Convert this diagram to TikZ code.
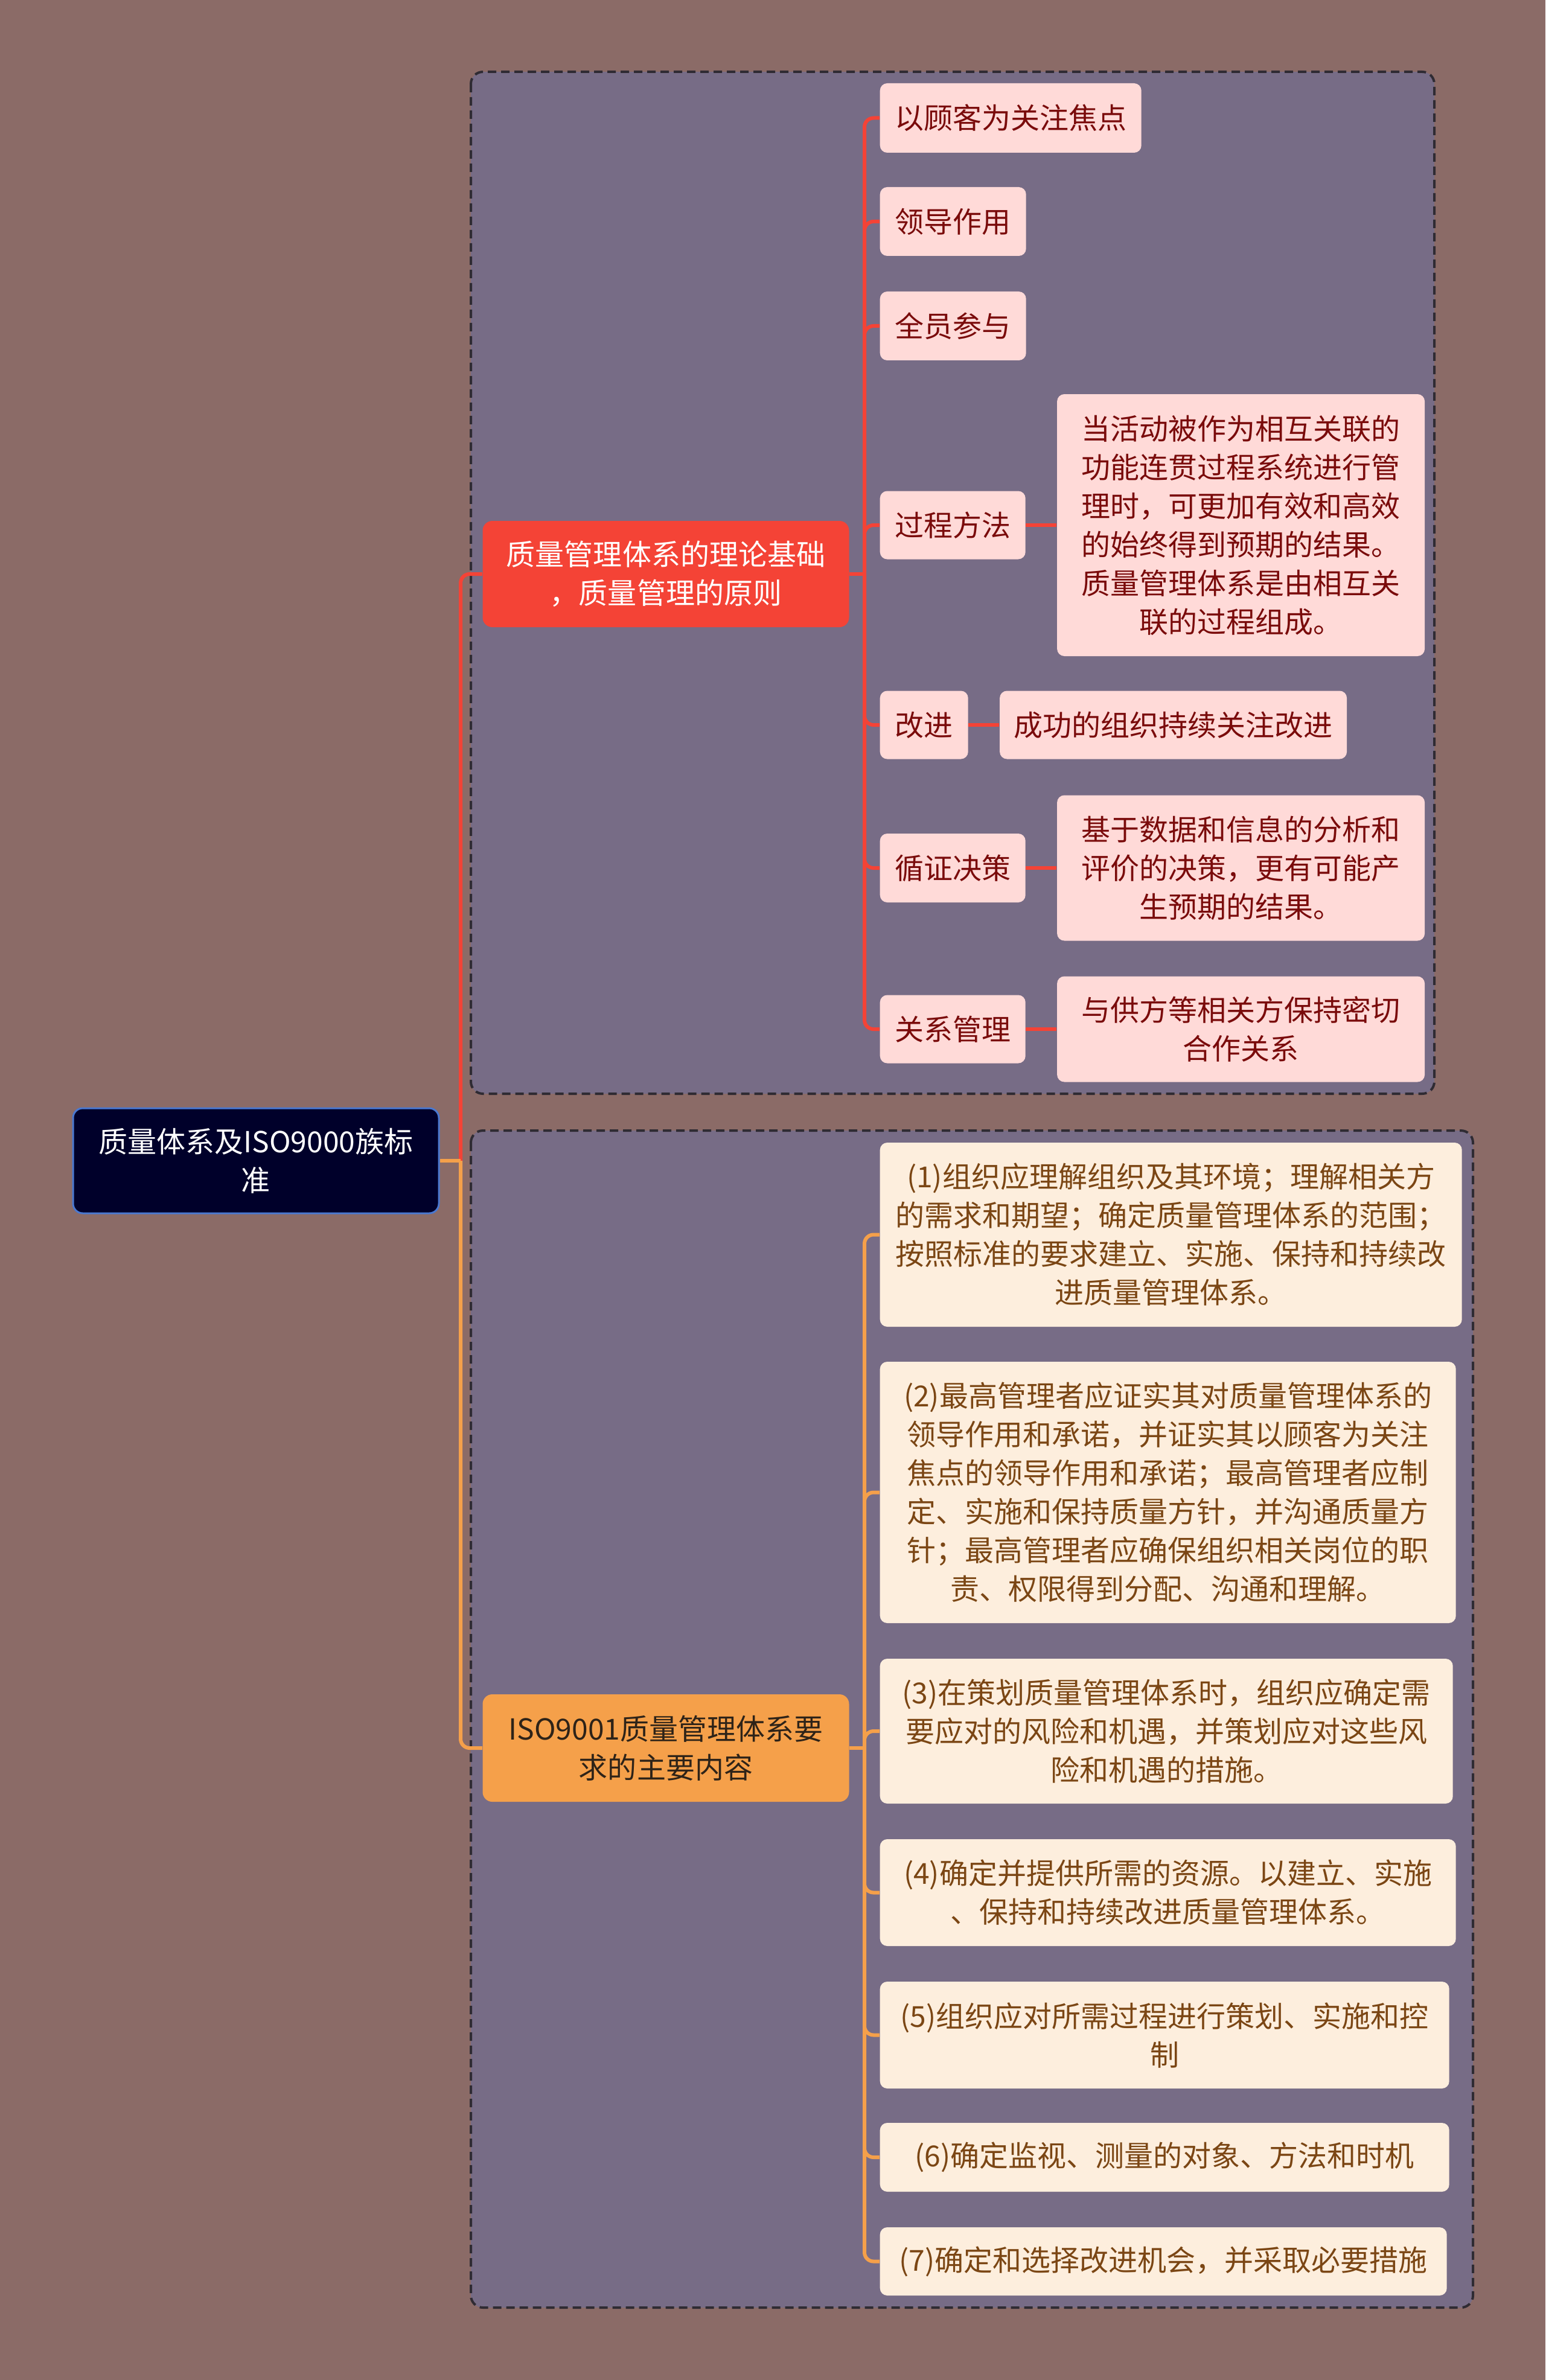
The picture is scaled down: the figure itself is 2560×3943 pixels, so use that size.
\documentclass[tikz,border=0pt]{standalone}
\usepackage{fontspec}
\setmainfont{Noto Sans CJK SC}
\usetikzlibrary{positioning}

\definecolor{bgbrown}{HTML}{8B6B67}
\definecolor{grpfill}{HTML}{776C86}
\definecolor{grpline}{HTML}{2F2B33}
\definecolor{rootfill}{HTML}{00002A}
\definecolor{rootline}{HTML}{4A78D0}
\definecolor{redmain}{HTML}{F44336}
\definecolor{kidred}{HTML}{FFDAD8}
\definecolor{txtred}{HTML}{7A0B0B}
\definecolor{orgmain}{HTML}{F5A04A}
\definecolor{kidorg}{HTML}{FDEEDD}
\definecolor{txtorg}{HTML}{7B4614}
\definecolor{orgdark}{HTML}{2E2318}

\tikzset{
  base/.style={rectangle, rounded corners=1.2mm, inner sep=0pt, align=center,
    font=\fontsize{13.66pt}{18.21pt}\selectfont},
  rootbox/.style={base, fill=rootfill, draw=rootline, line width=0.3mm, text=white, rounded corners=1.6mm},
  redhead/.style={base, fill=redmain, text=white, rounded corners=1.6mm},
  orghead/.style={base, fill=orgmain, text=orgdark, rounded corners=1.6mm},
  redkid/.style={base, fill=kidred, text=txtred},
  orgkid/.style={base, fill=kidorg, text=txtorg},
  group/.style={draw=grpline, fill=grpfill, line width=0.4mm, dash pattern=on 1.4mm off 0.8mm, rounded corners=2mm},
  redline/.style={draw=redmain, line width=0.6mm, rounded corners=1.5mm},
  orgline/.style={draw=orgmain, line width=0.6mm, rounded corners=1.5mm},
}

\begin{document}
\begin{tikzpicture}[x=0.1mm, y=-0.1mm]
    \useasboundingbox (0,0) rectangle (2560,3943);
    \fill[bgbrown] (0,0) rectangle (2560,3943);

    % dashed frames round the two branches
    \draw[group] (780,119) rectangle (2376,1812);
    \draw[group] (780,1873) rectangle (2440,3823);

    \node[rootbox, minimum width=60.6mm, minimum height=17.4mm] (root) at (424,1923) {质量体系及ISO9000族标\\准};

    \node[redhead, minimum width=60.7mm, minimum height=17.6mm] (b1) at (1103,951) {质量管理体系的理论基础\\，质量管理的原则};
    \node[orghead, minimum width=60.7mm, minimum height=17.8mm] (b2) at (1103,2896) {ISO9001质量管理体系要\\求的主要内容};

    % principles
    \node[redkid, minimum width=43.3mm, minimum height=11.5mm, anchor=west] (c1) at (1457,195.5) {以顾客为关注焦点};
    \node[redkid, minimum width=24.2mm, minimum height=11.4mm, anchor=west] (c2) at (1457,367) {领导作用};
    \node[redkid, minimum width=24.2mm, minimum height=11.4mm, anchor=west] (c3) at (1457,540) {全员参与};
    \node[redkid, minimum width=24.1mm, minimum height=11.3mm, anchor=west] (c4) at (1457,870) {过程方法};
    \node[redkid, minimum width=14.6mm, minimum height=11.3mm, anchor=west] (c5) at (1457,1201) {改进};
    \node[redkid, minimum width=24.1mm, minimum height=11.4mm, anchor=west] (c6) at (1457,1438) {循证决策};
    \node[redkid, minimum width=24.1mm, minimum height=11.3mm, anchor=west] (c7) at (1457,1705) {关系管理};

    \node[redkid, minimum width=60.9mm, minimum height=43.4mm, right=5.1mm of c4] (d4) {当活动被作为相互关联的\\功能连贯过程系统进行管\\理时，可更加有效和高效\\的始终得到预期的结果。\\质量管理体系是由相互关\\联的过程组成。};
    \node[redkid, minimum width=57.5mm, minimum height=11.3mm, right=5.1mm of c5] (d5) {成功的组织持续关注改进};
    \node[redkid, minimum width=60.9mm, minimum height=24.1mm, right=5.1mm of c6] (d6) {基于数据和信息的分析和\\评价的决策，更有可能产\\生预期的结果。};
    \node[redkid, minimum width=60.9mm, minimum height=17.5mm, right=5.1mm of c7] (d7) {与供方等相关方保持密切\\合作关系};

    % requirements
    \node[orgkid, minimum width=96.4mm, minimum height=30.5mm, anchor=west] (o1) at (1457,2045.5) {(1)组织应理解组织及其环境；理解相关方\\的需求和期望；确定质量管理体系的范围；\\按照标准的要求建立、实施、保持和持续改\\进质量管理体系。};
    \node[orgkid, minimum width=95.4mm, minimum height=43.3mm, anchor=west] (o2) at (1457,2472.5) {(2)最高管理者应证实其对质量管理体系的\\领导作用和承诺，并证实其以顾客为关注\\焦点的领导作用和承诺；最高管理者应制\\定、实施和保持质量方针，并沟通质量方\\针；最高管理者应确保组织相关岗位的职\\责、权限得到分配、沟通和理解。};
    \node[orgkid, minimum width=94.9mm, minimum height=24.0mm, anchor=west] (o3) at (1457,2868) {(3)在策划质量管理体系时，组织应确定需\\要应对的风险和机遇，并策划应对这些风\\险和机遇的措施。};
    \node[orgkid, minimum width=95.4mm, minimum height=17.7mm, anchor=west] (o4) at (1457,3135.5) {(4)确定并提供所需的资源。以建立、实施\\、保持和持续改进质量管理体系。};
    \node[orgkid, minimum width=94.3mm, minimum height=17.7mm, anchor=west] (o5) at (1457,3371.5) {(5)组织应对所需过程进行策划、实施和控\\制};
    \node[orgkid, minimum width=94.3mm, minimum height=11.4mm, anchor=west] (o6) at (1457,3574) {(6)确定监视、测量的对象、方法和时机};
    \node[orgkid, minimum width=93.9mm, minimum height=11.3mm, anchor=west] (o7) at (1457,3746.5) {(7)确定和选择改进机会，并采取必要措施};

    % root to branches
    \coordinate (rj) at (763,1923);
    \draw[redline] (rj) |- (b1.west);
    \draw[orgline] (rj) |- (b2.west);
    \draw[orgline] (root.east) -- (rj);

    % branch trunks
    \coordinate (rt) at (1432,951);
    \coordinate (ot) at (1432,2896);
    \draw[redline] (b1.east) -- (rt);
    \draw[redline] (rt) |- (c1.west) (rt) |- (c2.west) (rt) |- (c3.west) (rt) |- (c4.west)
        (rt) |- (c5.west) (rt) |- (c6.west) (rt) |- (c7.west);
    \draw[orgline] (b2.east) -- (ot);
    \draw[orgline] (ot) |- (o1.west) (ot) |- (o2.west) (ot) |- (o3.west) (ot) |- (o4.west)
        (ot) |- (o5.west) (ot) |- (o6.west) (ot) |- (o7.west);

    % principle to explanation
    \draw[redline] (c4.east) -- (d4.west);
    \draw[redline] (c5.east) -- (d5.west);
    \draw[redline] (c6.east) -- (d6.west);
    \draw[redline] (c7.east) -- (d7.west);
\end{tikzpicture}
\end{document}
